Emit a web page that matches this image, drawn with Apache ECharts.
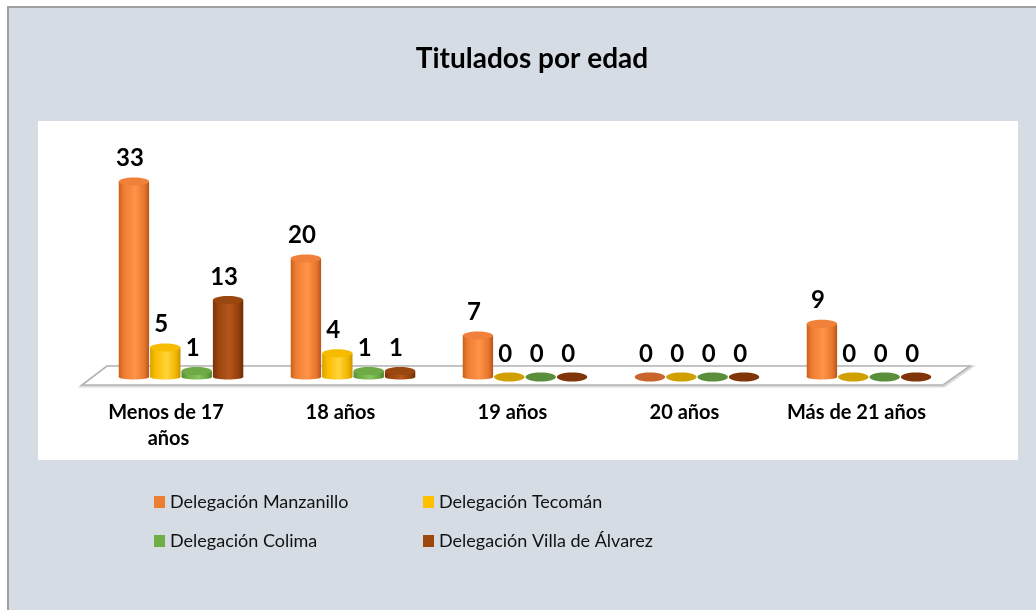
<!DOCTYPE html>
<html>
<head>
<meta charset="utf-8">
<script src="https://cdn.jsdelivr.net/npm/echarts@6/dist/echarts.min.js"></script>
<style>
  html, body { margin: 0; padding: 0; background: #fff; }
  #frame {
    position: absolute; left: 7px; top: 6px; right: 0; bottom: 0;
    background: #d6dce4;
    border-left: 2px solid #a0a0a0;
    border-top: 2px solid #a0a0a0;
  }
  #plot {
    position: absolute; left: 38px; top: 121px; width: 980px; height: 339px;
    background: #fff;
  }
  #chart { position: absolute; left: 0; top: 0; width: 1036px; height: 610px; }
</style>
</head>
<body>
<div id="frame"></div>
<div id="plot"></div>
<div id="chart"></div>
<script>
const categories = ['Menos de 17 años', '18 años', '19 años', '20 años', 'Más de 21 años'];
const seriesNames = ['Delegación Manzanillo', 'Delegación Tecomán', 'Delegación Colima', 'Delegación Villa de Álvarez'];
const manzanillo = [33, 20, 7, 0, 9];
const tecoman = [5, 4, 0, 0, 0];
const colima = [1, 1, 0, 0, 0];
const villa = [13, 1, 0, 0, 0];

// colores estilo Office: base, cuerpo (degradado), tapa y disco plano para ceros
const palettes = [
  { base: '#ed7d31', body: ['#c9621c', '#ef7e33', '#ff9448', '#e5752c', '#b5561a'], top: '#f0803a', flat: '#c9642c' },
  { base: '#ffc000', body: ['#d9a200', '#fbbc00', '#ffd43a', '#f2b500', '#c79400'], top: '#f7bb00', flat: '#cfa000' },
  { base: '#70ad47', body: ['#578f35', '#6dab45', '#88c45e', '#68a540', '#4a7e2c'], top: '#6eaa45', flat: '#5a8e3a' },
  { base: '#9e480e', body: ['#7a3409', '#9a460e', '#b5561a', '#933f0c', '#6a2c06'], top: '#9a460f', flat: '#7f3508' }
];

const fontFamily = 'Lato, "Open Sans", sans-serif';

function grad(cols) {
  return new echarts.graphic.LinearGradient(0, 0, 1, 0, [
    { offset: 0, color: cols[0] },
    { offset: 0.18, color: cols[1] },
    { offset: 0.55, color: cols[2] },
    { offset: 0.85, color: cols[3] },
    { offset: 1, color: cols[4] }
  ]);
}

// cilindro 3D dibujado con las escalas del eje
function cylinder(k, pal) {
  return function (params, api) {
    const v = api.value(1);
    const base = api.coord([api.value(0), 0]);
    const top = api.coord([api.value(0), v]);
    const band = api.size([1, 0])[0];
    const w = band * 0.73 / 4;
    const cx = base[0] + (k - 1.5) * w;
    const rx = w / 2 - 0.5;
    const children = [];
    if (v > 0) {
      children.push({
        type: 'rect',
        shape: { x: cx - rx, y: top[1], width: rx * 2, height: base[1] - top[1] },
        style: { fill: grad(pal.body) }
      });
      children.push({
        type: 'ellipse',
        shape: { cx: cx, cy: base[1], rx: rx, ry: 2.5 },
        style: { fill: grad(pal.body) }
      });
      children.push({
        type: 'ellipse',
        shape: { cx: cx, cy: top[1], rx: rx, ry: 4 },
        style: { fill: pal.top }
      });
    } else {
      children.push({
        type: 'ellipse',
        shape: { cx: cx, cy: base[1], rx: rx, ry: 4.5 },
        style: { fill: pal.flat }
      });
    }
    children.push({
      type: 'text',
      style: {
        text: String(v),
        x: cx - 4,
        y: top[1] - 11,
        textAlign: 'center',
        textVerticalAlign: 'bottom',
        font: 'bold 24px ' + fontFamily,
        fill: '#000'
      }
    });
    return { type: 'group', children: children };
  };
}

const values = [manzanillo, tecoman, colima, villa];

const legendText = { fontFamily: fontFamily, fontSize: 18, color: '#111', lineHeight: 22 };

const chart = echarts.init(document.getElementById('chart'));

chart.setOption({
  animation: false,
  title: {
    text: 'Titulados por edad',
    left: 527,
    textAlign: 'center',
    top: 40,
    textStyle: { fontFamily: fontFamily, fontSize: 28, fontWeight: 'bold', color: '#000' }
  },
  legend: [
    {
      data: [seriesNames[0], seriesNames[2]],
      orient: 'vertical',
      left: 154,
      top: 491,
      padding: 0,
      icon: 'rect',
      itemWidth: 11,
      itemHeight: 12,
      itemGap: 17,
      textStyle: legendText
    },
    {
      data: [seriesNames[1], seriesNames[3]],
      orient: 'vertical',
      left: 423,
      top: 491,
      padding: 0,
      icon: 'rect',
      itemWidth: 11,
      itemHeight: 12,
      itemGap: 17,
      textStyle: legendText
    }
  ],
  grid: { left: 95, width: 860, top: 140, bottom: 233 },
  xAxis: {
    type: 'category',
    data: categories,
    axisLine: { show: false },
    axisTick: { show: false },
    axisLabel: {
      interval: 0,
      margin: 23,
      fontFamily: fontFamily,
      fontSize: 20,
      fontWeight: 'bold',
      color: '#000',
      lineHeight: 26,
      width: 160,
      overflow: 'break',
      padding: [0, 25, 0, 0]
    }
  },
  yAxis: { type: 'value', min: 0, max: 40, show: false },
  graphic: [
    {
      type: 'polygon',
      z: 0,
      shape: { points: [[82, 386], [107, 367], [971, 367], [944, 386]] },
      style: { fill: '#fff', stroke: '#dadada', lineWidth: 3 }
    },
    {
      type: 'polygon',
      z: 0,
      shape: { points: [[82, 385], [107, 366], [970, 366], [943, 385]] },
      style: { fill: '#fff', stroke: '#b4b4b4', lineWidth: 1.6 }
    }
  ],
  series: values.map(function (arr, k) {
    return {
      name: seriesNames[k],
      type: 'custom',
      z: 5,
      itemStyle: { color: palettes[k].base },
      renderItem: cylinder(k, palettes[k]),
      data: arr.map(function (v, i) { return [i, v]; })
    };
  })
});
</script>
</body>
</html>
